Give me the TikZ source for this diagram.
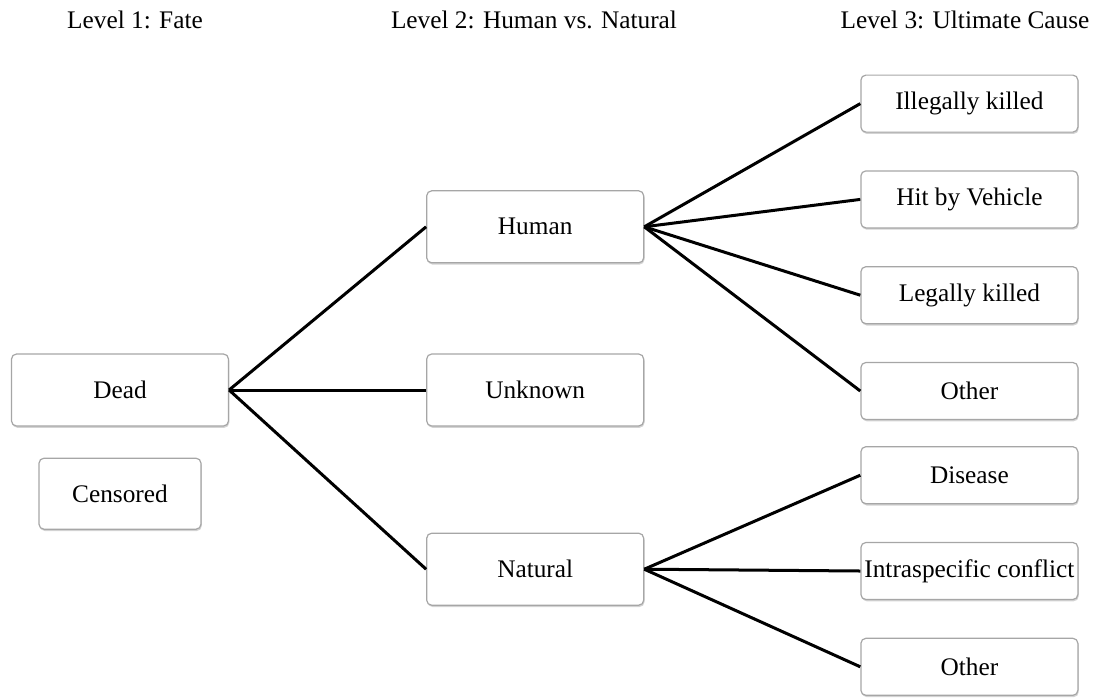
\documentclass[tikz,border=0pt]{standalone}
\usepackage{fontspec}
\setmainfont{Liberation Serif}
\usepackage{tikz}
\usetikzlibrary{positioning,shadows}

\begin{document}
\begin{tikzpicture}[
    box/.style={rectangle, draw=gray!70, line width=0.6pt, rounded corners=2.5pt,
        fill=white, minimum width=108.5pt, minimum height=36pt,
        inner sep=0pt, text centered,
        font=\fontsize{12.65}{15}\selectfont,
        drop shadow={opacity=0.35, shadow xshift=0.4pt, shadow yshift=-0.9pt}},
    leaf/.style={box, minimum height=28.5pt},
    header/.style={font=\fontsize{12.65}{15}\selectfont, inner sep=0pt},
    link/.style={line width=1.5pt, black},
]
\useasboundingbox (0,0) rectangle (552pt,-349pt);

% ── Column titles ──
\node[header] (lvl1) at (67.5pt,-10pt) {Level 1: Fate};
\node[header] (lvl2) at (267pt,-10pt) {Level 2: Human vs. Natural};
\node[header] (lvl3) at (482.5pt,-10pt) {Level 3: Ultimate Cause};

% ── Level 1 ──
\node[box] (dead) at (60pt,-195pt) {Dead};
\node[box, minimum width=81pt, minimum height=35.5pt,
    below=15.5pt of dead] (censored) {Censored};

% ── Level 2 ──
\node[box, right=98.5pt of dead] (unknown) {Unknown};
\node[box, above=45pt of unknown] (human) {Human};
\node[box, below=53pt of unknown] (natural) {Natural};

% ── Level 3 ──
\node[leaf, right=108pt of unknown, yshift=-0.5pt] (otherh) {Other};
\node[leaf, above=18.8pt of otherh] (legal) {Legally killed};
\node[leaf, above=18.8pt of legal] (vehicle) {Hit by Vehicle};
\node[leaf, above=18.8pt of vehicle] (illegal) {Illegally killed};
\node[leaf, below=13pt of otherh] (disease) {Disease};
\node[leaf, below=18.8pt of disease] (intra) {Intraspecific conflict};
\node[leaf, below=18.8pt of intra] (othern) {Other};

% ── Links ──
\draw[link] (dead.east) -- (human.west);
\draw[link] (dead.east) -- (unknown.west);
\draw[link] (dead.east) -- (natural.west);

\draw[link] (human.east) -- (illegal.west);
\draw[link] (human.east) -- (vehicle.west);
\draw[link] (human.east) -- (legal.west);
\draw[link] (human.east) -- (otherh.west);

\draw[link] (natural.east) -- (disease.west);
\draw[link] (natural.east) -- (intra.west);
\draw[link] (natural.east) -- (othern.west);

\end{tikzpicture}
\end{document}
